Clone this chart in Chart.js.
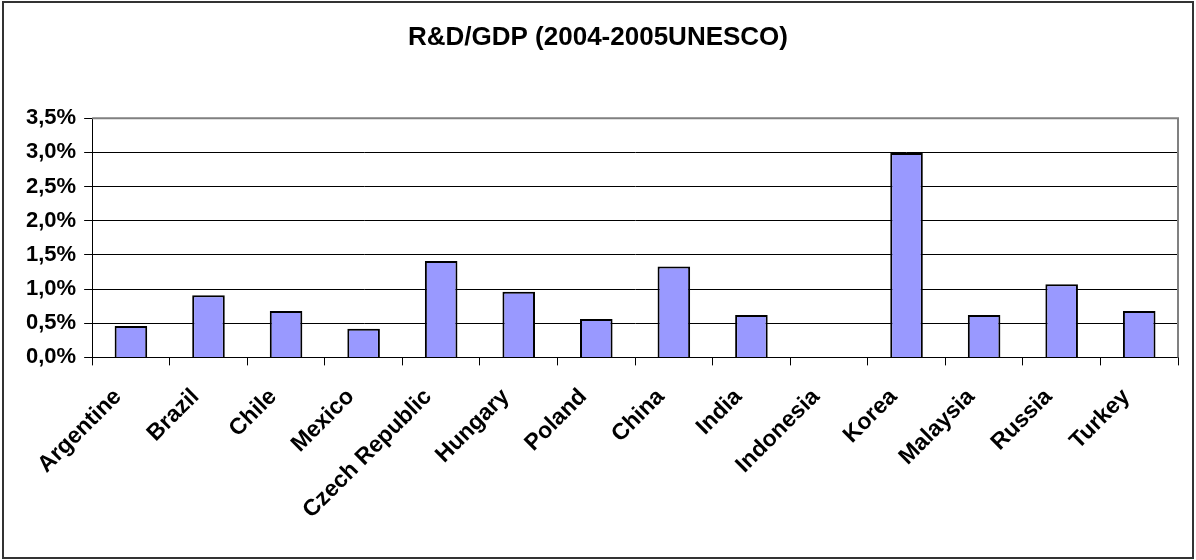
<!DOCTYPE html>
<html>
<head>
<meta charset="utf-8">
<script src="https://cdn.jsdelivr.net/npm/chart.js@4/dist/chart.umd.min.js"></script>
<style>
  html, body { margin: 0; padding: 0; background: #fff; }
  #wrap { width: 1196px; height: 560px; position: relative; }
</style>
</head>
<body>
<div id="wrap"><canvas id="grafico" width="1196" height="560"></canvas></div>
<script>
// Países
const paises = ["Argentine", "Brazil", "Chile", "Mexico", "Czech Republic", "Hungary", "Poland",
  "China", "India", "Indonesia", "Korea", "Malaysia", "Russia", "Turkey"];

// P&D em % do PIB
const pdPib = [0.46, 0.91, 0.68, 0.42, 1.41, 0.96, 0.56, 1.33, 0.62, 0, 2.99, 0.62, 1.07, 0.68];

// Escala do eixo Y
const yMin = 0, yMax = 3.5, yPasso = 0.5;

const titulo = "R&D/GDP (2004-2005UNESCO)";

// Moldura externa e bordas cinza do gráfico
const moldura = {
  id: "moldura",
  afterDraw(chart) {
    const c = chart.ctx, a = chart.chartArea;
    c.save();
    c.strokeStyle = "#808080";
    c.lineWidth = 2;
    c.beginPath();
    c.moveTo(a.left, a.top);
    c.lineTo(a.right, a.top);
    c.lineTo(a.right, a.bottom);
    c.stroke();
    c.strokeStyle = "#333";
    c.lineWidth = 2;
    c.strokeRect(3, 2, chart.width - 6, chart.height - 4);
    c.restore();
  }
};

const ctx = document.getElementById("grafico").getContext("2d");
new Chart(ctx, {
  type: "bar",
  data: {
    labels: paises,
    datasets: [{
      label: "R&D/GDP",
      data: pdPib,
      backgroundColor: "#9999FF",
      borderColor: "#000",
      borderWidth: 2,
      borderSkipped: "bottom",
      categoryPercentage: 1,
      barPercentage: 0.42
    }]
  },
  options: {
    responsive: false,
    animation: false,
    layout: { padding: { left: 18, right: 18, top: 0, bottom: 18 } },
    plugins: {
      legend: { display: false },
      tooltip: { enabled: false },
      title: {
        display: true,
        text: titulo,
        color: "#000",
        font: { family: "Liberation Sans", size: 26, weight: "bold" },
        padding: { top: 22, bottom: 65 }
      }
    },
    scales: {
      x: {
        grid: { drawOnChartArea: false, color: "#000", tickLength: 8, offset: true },
        border: { display: true, color: "#000", width: 1 },
        ticks: {
          color: "#000",
          maxRotation: 45,
          minRotation: 45,
          padding: 18,
          labelOffset: -13,
          autoSkip: false,
          font: { family: "Liberation Sans", size: 23, weight: "bold" }
        }
      },
      y: {
        min: yMin,
        max: yMax,
        grid: {
          color: c => (c.tick && c.tick.value === yMax) ? "#808080" : "#000",
          tickLength: 8,
          tickColor: "#000"
        },
        border: { display: true, color: "#000", width: 1 },
        ticks: {
          stepSize: yPasso,
          color: "#000",
          padding: 8,
          font: { family: "Liberation Sans", size: 22, weight: "bold" },
          callback: v => v.toFixed(1).replace(".", ",") + "%"
        }
      }
    }
  },
  plugins: [moldura]
});
</script>
</body>
</html>
